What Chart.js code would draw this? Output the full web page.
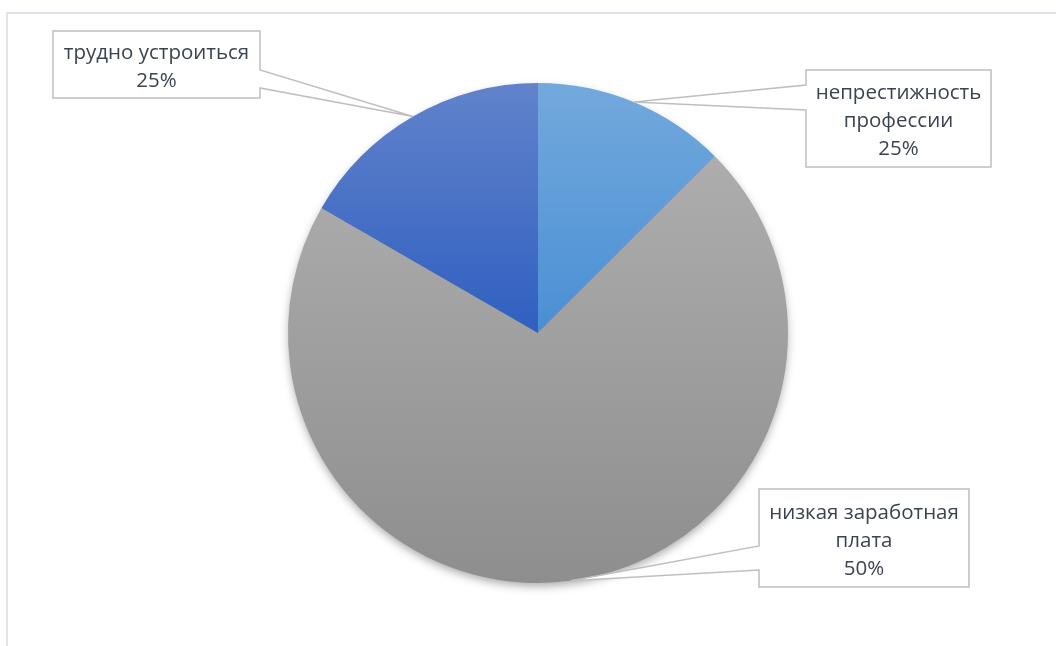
<!DOCTYPE html>
<html lang="ru">
<head>
<meta charset="utf-8">
<title>Причины</title>
<script src="https://cdn.jsdelivr.net/npm/chart.js@4.4.1/dist/chart.umd.min.js"></script>
<style>
html, body { margin: 0; padding: 0; background: #fff; }
#wrap { position: relative; width: 1056px; height: 646px; overflow: hidden; }
#frame { position: absolute; left: 6px; top: 12px; right: -4px; bottom: -4px;
         border-top: 2px solid #dfe3e9; border-left: 2px solid #dfe3e9; pointer-events: none; }
canvas { display: block; }
</style>
</head>
<body>
<div id="wrap">
  <div id="frame"></div>
  <canvas id="pie-chart"></canvas>
</div>
<script>
// категории и значения секторов
const categories = ['непрестижность профессии', 'низкая заработная плата', 'трудно устроиться'];
const sliceValues = [3, 17, 4];
// подписи так, как они стоят на диаграмме
const labelLines = [['непрестижность', 'профессии'], ['низкая заработная', 'плата'], ['трудно устроиться']];
const percentLabels = ['25%', '50%', '25%'];

// градиенты секторов (доля высоты круга, цвет)
const gradientStops = [
    [[0, '#73a9dd'], [0.5, '#4a8fd4']],
    [[0.15, '#adadad'], [1, '#8e8e8e']],
    [[0, '#6283cb'], [0.5, '#2f5fc0']]
];
const flatColors = ['#5b9bd5', '#a5a5a5', '#4472c4'];

// выноски: рамка [x0, y0, x1, y1], сторона и место крепления указателя
const callouts = [
    { box: [806, 70, 991, 167], side: 'left', attach: [85, 110] },
    { box: [759, 489, 969, 587], side: 'left', attach: [546, 570] },
    { box: [53, 31, 260, 98], side: 'right', attach: [70, 88] }
];

function sliceFill(c) {
    const chart = c.chart;
    const arc = chart.getDatasetMeta(0).data[c.dataIndex];
    if (!arc || !arc.outerRadius) return flatColors[c.dataIndex];
    const g = chart.ctx.createLinearGradient(0, arc.y - arc.outerRadius, 0, arc.y + arc.outerRadius);
    gradientStops[c.dataIndex].forEach(s => g.addColorStop(s[0], s[1]));
    return g;
}

// мягкая тень под кругом
const pieShadow = {
    id: 'pieShadow',
    beforeDatasetsDraw(chart) {
        const arc = chart.getDatasetMeta(0).data[0];
        if (!arc || !arc.outerRadius) return;
        const ctx = chart.ctx;
        ctx.save();
        ctx.shadowColor = 'rgba(0,0,0,0.35)';
        ctx.shadowBlur = 10;
        ctx.shadowOffsetY = 4;
        ctx.fillStyle = '#9a9a9a';
        ctx.beginPath();
        ctx.arc(arc.x, arc.y, arc.outerRadius - 1, 0, Math.PI * 2);
        ctx.fill();
        ctx.restore();
    }
};

// выноски с подписями
const calloutLabels = {
    id: 'calloutLabels',
    afterDraw(chart) {
        const ctx = chart.ctx;
        chart.getDatasetMeta(0).data.forEach((arc, i) => {
            const mid = (arc.startAngle + arc.endAngle) / 2;
            const ax = arc.x + Math.cos(mid) * arc.outerRadius;
            const ay = arc.y + Math.sin(mid) * arc.outerRadius;
            const c = callouts[i];
            const [x0, y0, x1, y1] = c.box;

            ctx.save();
            ctx.beginPath();
            if (c.side === 'left') {
                ctx.moveTo(x0, y0);
                ctx.lineTo(x1, y0);
                ctx.lineTo(x1, y1);
                ctx.lineTo(x0, y1);
                ctx.lineTo(x0, c.attach[1]);
                ctx.lineTo(ax, ay);
                ctx.lineTo(x0, c.attach[0]);
            } else {
                ctx.moveTo(x0, y0);
                ctx.lineTo(x1, y0);
                ctx.lineTo(x1, c.attach[0]);
                ctx.lineTo(ax, ay);
                ctx.lineTo(x1, c.attach[1]);
                ctx.lineTo(x1, y1);
                ctx.lineTo(x0, y1);
            }
            ctx.closePath();
            ctx.fillStyle = '#ffffff';
            ctx.fill();
            ctx.lineWidth = 1.5;
            ctx.strokeStyle = '#bfbfbf';
            ctx.stroke();

            const lines = labelLines[i].concat([percentLabels[i]]);
            const lh = 28;
            const cx = (x0 + x1) / 2;
            const cy = (y0 + y1) / 2 + 3;
            ctx.font = '20.5px "Open Sans", "Noto Sans", sans-serif';
            ctx.fillStyle = '#3b4352';
            ctx.textAlign = 'center';
            ctx.textBaseline = 'middle';
            lines.forEach((t, k) => {
                ctx.fillText(t, cx, cy + (k - (lines.length - 1) / 2) * lh);
            });
            ctx.restore();
        });
    }
};

const pieCtx = document.getElementById('pie-chart').getContext('2d');
const chart = new Chart(pieCtx, {
    type: 'pie',
    data: {
        labels: categories,
        datasets: [{
            data: sliceValues,
            backgroundColor: sliceFill,
            borderWidth: 0,
            hoverOffset: 0
        }]
    },
    options: {
        responsive: true,
        maintainAspectRatio: false,
        animation: false,
        layout: { padding: { left: 288, right: 268, top: 83, bottom: 63 } },
        plugins: {
            legend: { display: false },
            tooltip: { enabled: false }
        }
    },
    plugins: [pieShadow, calloutLabels]
});
chart.update();
</script>
</body>
</html>
